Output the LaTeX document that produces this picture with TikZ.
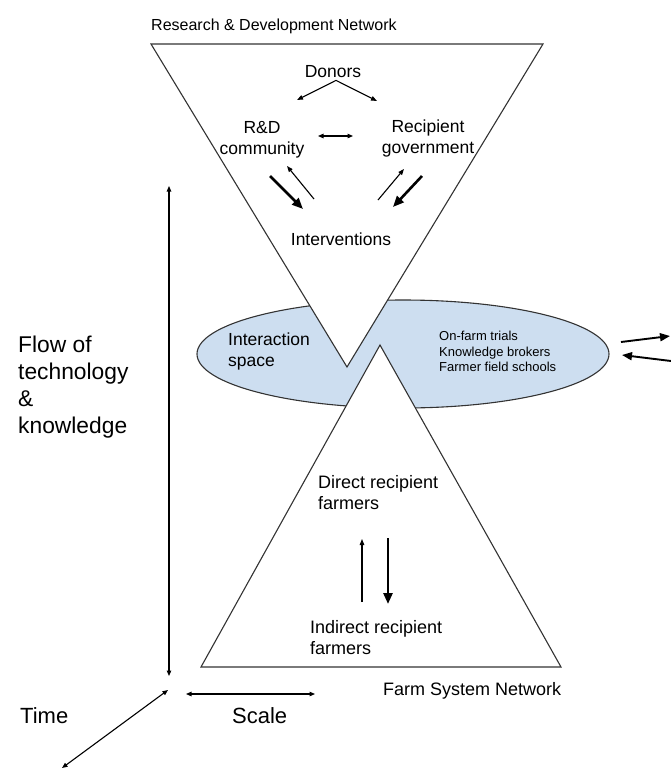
\documentclass[tikz,border=0pt]{standalone}
\usepackage{fontspec}
\setmainfont{Liberation Sans}
\usetikzlibrary{arrows.meta}
\definecolor{spaceblue}{HTML}{CDDEF0}
\definecolor{edgegray}{HTML}{333333}
\tikzset{
  lbl/.style={inner sep=0pt, font=\fontsize{17.5}{21}\selectfont},
  farmlbl/.style={inner sep=0pt, align=left, font=\fontsize{18}{21.5}\selectfont},
  netlbl/.style={inner sep=0pt, font=\fontsize{16}{19}\selectfont},
  smalllbl/.style={inner sep=0pt, align=left, font=\fontsize{13}{15.5}\selectfont},
  axislbl/.style={inner sep=0pt, align=left, font=\fontsize{22}{27}\selectfont},
  thinarrow/.style={line width=1.1pt, -{Triangle[length=6pt,width=4.5pt]}},
  thickarrow/.style={line width=2.6pt, -{Triangle[length=11pt,width=9pt]}},
  axisarrow/.style={line width=1.1pt, {Triangle[length=5.5pt,width=4.5pt]}-{Triangle[length=5.5pt,width=4.5pt]}},
  sidearrow/.style={line width=1.9pt, -{Triangle[length=10pt,width=8pt]}}
}
\begin{document}
\begin{tikzpicture}[x=1pt,y=-1pt]
  \useasboundingbox (0,0) rectangle (670,769);
  % interaction space and the two networks
  \draw[edgegray, line width=1.1pt, fill=spaceblue] (403,354) ellipse [x radius=206, y radius=54];
  \draw[edgegray, line width=1.1pt, fill=white] (151,44) -- (543,44) -- (347,367) -- cycle;
  \draw[edgegray, line width=1.1pt, fill=white] (380,345) -- (561,667) -- (201,667) -- cycle;

  % labels
  \node[netlbl, anchor=base west] (rdnet) at (151,30) {Research \& Development Network};
  \node[lbl, anchor=base] (donors) at (333,77) {Donors};
  \node[lbl, align=center, anchor=north] (rdcom) at (262,121) {R\&D\\community};
  \node[lbl, align=center, anchor=north] (recgov) at (428,120) {Recipient\\government};
  \node[lbl, anchor=base] (interv) at (341,245) {Interventions};
  \node[lbl, align=left, anchor=north west] (interspace) at (228,333) {Interaction\\space};
  \node[smalllbl, anchor=north west] (brokers) at (439,331) {On-farm trials\\Knowledge brokers\\Farmer field schools};
  \node[farmlbl, anchor=north west] (direct) at (318,475) {Direct recipient\\farmers};
  \node[farmlbl, anchor=north west] (indirect) at (310,620) {Indirect recipient\\farmers};
  \node[netlbl, font=\fontsize{18}{21}\selectfont, anchor=base west] (farmnet) at (383,695) {Farm System Network};
  \node[axislbl, font=\fontsize{22.8}{27}\selectfont, anchor=north west] (flow) at (18,336) {Flow of\\technology\\\&\\knowledge};
  \node[axislbl, anchor=base west] (time) at (20,723) {Time};
  \node[axislbl, anchor=base west] (scale) at (232,723) {Scale};

  % arrow ends
  \coordinate (dl) at (297,100);
  \coordinate (dr) at (377,101);
  \coordinate (ml) at (318,136);
  \coordinate (mr) at (353,136);
  \coordinate (lt) at (270,176);
  \coordinate (lb) at (303,209);
  \coordinate (lu) at (287,166);
  \coordinate (lv) at (314,199);
  \coordinate (rv) at (378,200);
  \coordinate (ru) at (404,169);
  \coordinate (rt) at (422,176);
  \coordinate (rb) at (393,207);
  \coordinate (ub) at (362,602);
  \coordinate (ut) at (362,539);
  \coordinate (dt) at (388,538);
  \coordinate (db) at (388,604);
  \coordinate (ft) at (169,186);
  \coordinate (fb) at (169,676);
  \coordinate (sl) at (186,694);
  \coordinate (sr) at (315,694);
  \coordinate (tt) at (168,690);
  \coordinate (tb) at (62,768);
  \coordinate (oa) at (621,342);
  \coordinate (ob) at (670,336);
  \coordinate (ia) at (671,361);
  \coordinate (ib) at (622,355);

  % connectors
  \draw[thinarrow] (donors.south) ++(3,3) -- (dl);
  \draw[thinarrow] (donors.south) ++(3,3) -- (dr);
  \draw[axisarrow] (ml) -- (mr);
  \draw[thickarrow] (lt) -- (lb);
  \draw[thinarrow] (lv) -- (lu);
  \draw[thinarrow] (rv) -- (ru);
  \draw[thickarrow] (rt) -- (rb);
  \draw[thinarrow] (ub) -- (ut);
  \draw[thickarrow] (dt) -- (db);
  \draw[axisarrow] (ft) -- (fb);
  \draw[axisarrow] (sl) -- (sr);
  \draw[axisarrow] (tt) -- (tb);
  \draw[sidearrow] (oa) -- (ob);
  \draw[sidearrow] (ia) -- (ib);
\end{tikzpicture}
\end{document}
